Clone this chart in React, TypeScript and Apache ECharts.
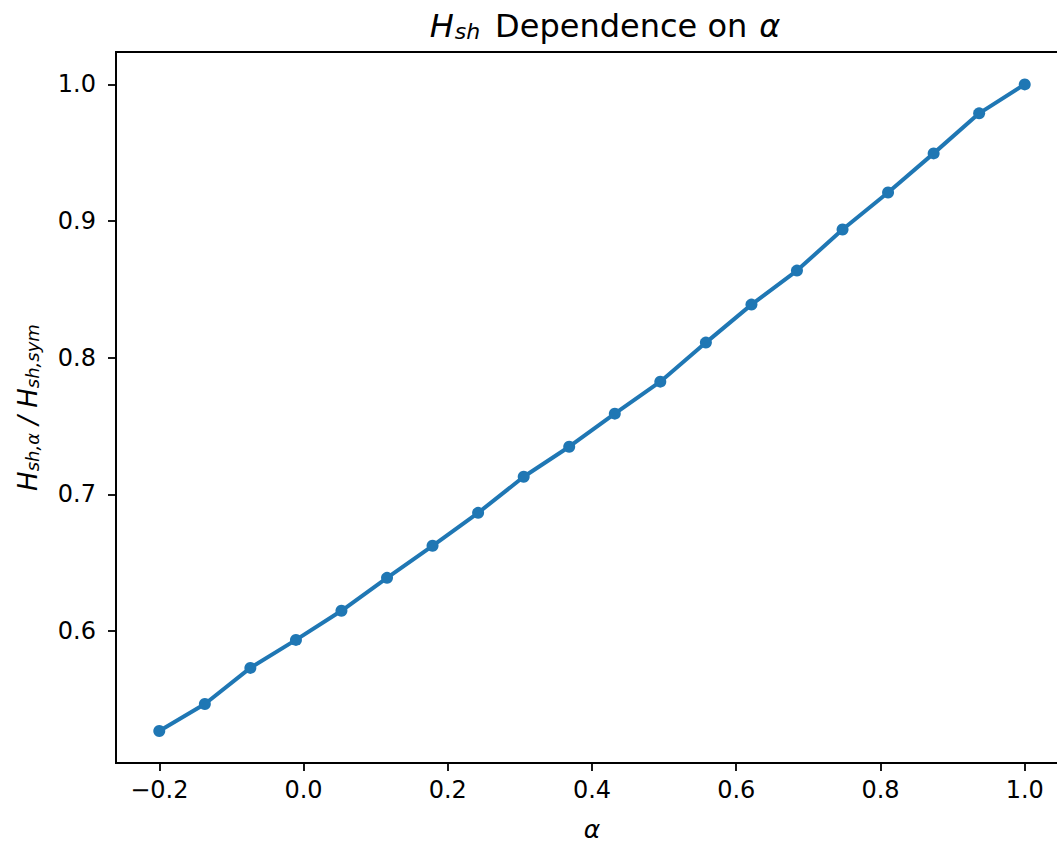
import React, { useEffect, useRef } from "react";
import * as echarts from "echarts";

const alphaValues = [
  -0.2, -0.1368, -0.0737, -0.0105, 0.0526, 0.1158, 0.1789, 0.2421, 0.3053, 0.3684,
  0.4316, 0.4947, 0.5579, 0.6211, 0.6842, 0.7474, 0.8105, 0.8737, 0.9368, 1.0,
];
const ratioValues = [
  0.5267, 0.5465, 0.5729, 0.5934, 0.6147, 0.6388, 0.6623, 0.6864, 0.7128, 0.7348,
  0.759, 0.7824, 0.811, 0.8388, 0.8637, 0.8938, 0.9209, 0.9495, 0.9788, 1.0,
];
const xTicks = [-0.2, 0.0, 0.2, 0.4, 0.6, 0.8, 1.0];
const yTicks = [0.6, 0.7, 0.8, 0.9, 1.0];

const FONT = "DejaVu Sans";

export default function App() {
  const ref = useRef<HTMLDivElement>(null);
  useEffect(() => {
    if (!ref.current) return;
    const chart = echarts.init(ref.current, undefined, { renderer: "svg" });
    const fmt = (v: number) => {
      const s = v.toFixed(1);
      return s.startsWith("-") ? "\u2212" + s.slice(1) : s;
    };
    chart.setOption({
      animation: false,
      backgroundColor: "#ffffff",
      title: {
        text: "{h|H}{s|sh}{t|Dependence on}{a|α}",
        left: 600,
        textAlign: "center",
        top: -1,
        textStyle: {
          fontWeight: "normal",
          rich: {
            h: { fontFamily: FONT, fontSize: 32, fontStyle: "italic", fontWeight: "normal", color: "#000", lineHeight: 38, verticalAlign: "bottom" },
            s: { fontFamily: FONT, fontSize: 22, fontStyle: "italic", fontWeight: "normal", color: "#000", lineHeight: 38, verticalAlign: "bottom", padding: [11, 0, 0, 1] },
            t: { fontFamily: FONT, fontSize: 32, fontWeight: "normal", color: "#000", lineHeight: 38, verticalAlign: "bottom", padding: [0, 0, 0, 15] },
            a: { fontFamily: FONT, fontSize: 32, fontStyle: "italic", fontWeight: "normal", color: "#000", lineHeight: 38, verticalAlign: "bottom", padding: [0, 0, 0, 12] },
          },
        },
      },
      grid: {
        left: 116,
        right: 12,
        top: 52,
        bottom: 81,
        show: true,
        borderColor: "#000",
        borderWidth: 1.8,
        outerBoundsMode: "none",
        containLabel: false,
      },
      xAxis: {
        type: "value",
        min: -0.26,
        max: 1.06,
        name: "{a|α}",
        nameLocation: "middle",
        nameGap: 54,
        nameTextStyle: {
          rich: { a: { fontFamily: FONT, fontSize: 25, fontStyle: "italic", color: "#000" } },
        },
        splitLine: { show: false },
        axisLine: { show: true, onZero: false, lineStyle: { color: "#000", width: 1.8 } },
        axisTick: { show: true, length: 8, customValues: xTicks, lineStyle: { color: "#000", width: 1.8 } },
        axisLabel: {
          customValues: xTicks,
          formatter: fmt,
          fontFamily: FONT,
          fontSize: 24,
          color: "#000",
          margin: 15,
        },
      },
      yAxis: {
        type: "value",
        min: 0.5033,
        max: 1.0237,
        name: "{h|H}{s|sh,α}{t| / }{h|H}{s|sh,sym}",
        nameLocation: "middle",
        nameGap: 75,
        nameRotate: 90,
        nameTextStyle: {
          rich: {
            h: { fontFamily: FONT, fontSize: 26, fontStyle: "italic", color: "#000", lineHeight: 30, verticalAlign: "bottom" },
            s: { fontFamily: FONT, fontSize: 18, fontStyle: "italic", color: "#000", lineHeight: 30, verticalAlign: "bottom", padding: [9, 0, 0, 0] },
            t: { fontFamily: FONT, fontSize: 26, fontStyle: "italic", color: "#000", lineHeight: 30, verticalAlign: "bottom" },
          },
        },
        splitLine: { show: false },
        axisLine: { show: true, onZero: false, lineStyle: { color: "#000", width: 1.8 } },
        axisTick: { show: true, length: 8, customValues: yTicks, lineStyle: { color: "#000", width: 1.8 } },
        axisLabel: {
          customValues: yTicks,
          formatter: fmt,
          fontFamily: FONT,
          fontSize: 24,
          color: "#000",
          margin: 20,
        },
      },
      series: [
        {
          type: "line",
          data: alphaValues.map((a, i) => [a, ratioValues[i]]),
          symbol: "circle",
          symbolSize: 12,
          showSymbol: true,
          lineStyle: { color: "#1f77b4", width: 4 },
          itemStyle: { color: "#1f77b4" },
        },
      ],
    });
    return () => chart.dispose();
  }, []);
  return (
    <div style={{ position: "fixed", left: 0, top: 0, width: 1057, height: 844, overflow: "hidden", background: "#fff" }}>
      <div ref={ref} style={{ width: 1080, height: 844 }} />
    </div>
  );
}
